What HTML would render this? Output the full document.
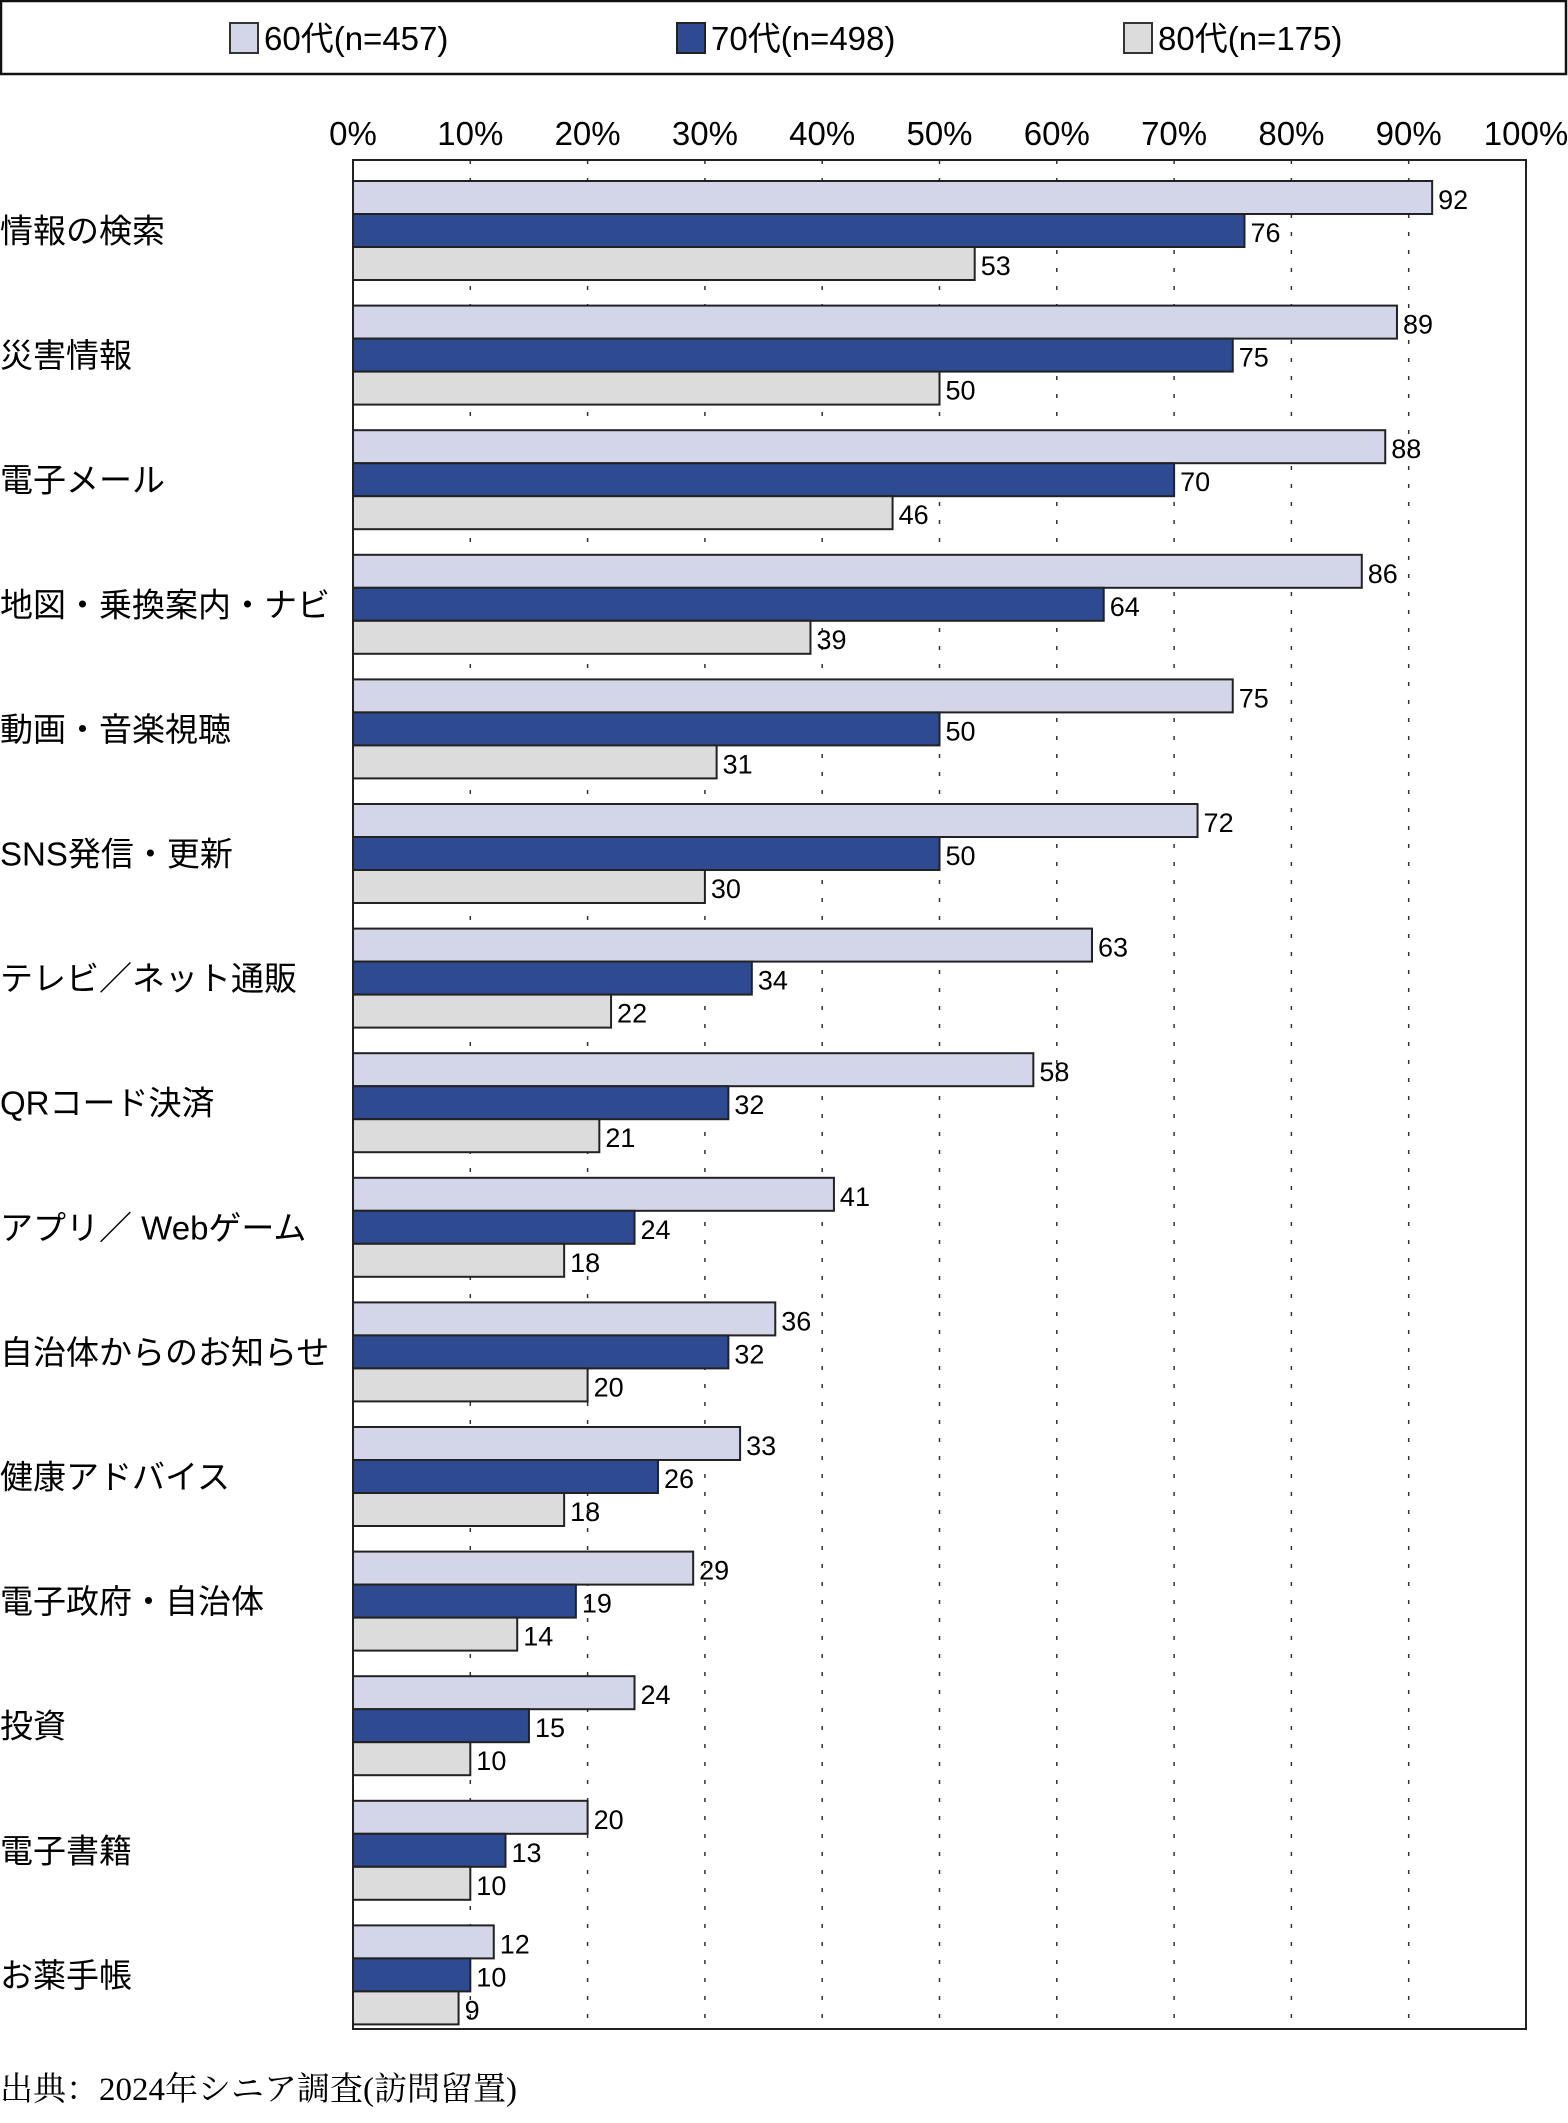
<!DOCTYPE html>
<html><head><meta charset="utf-8">
<style>
html,body{margin:0;padding:0;background:#fff;}
svg text{font-family:"Liberation Sans Narrow","Liberation Sans","Noto Sans CJK JP",sans-serif;}
</style></head>
<body>
<svg id="chart" xmlns="http://www.w3.org/2000/svg" width="1568" height="2118" viewBox="0 0 1568 2118">
<rect x="1" y="1" width="1565" height="73" fill="#fff" stroke="#111" stroke-width="2.5"/>
<g><rect x="230" y="23" width="28" height="30" fill="#d3d6e8" stroke="#333" stroke-width="2"/><text x="264" y="50" font-size="33" transform="scale(1,1)">60代(n=457)</text></g>
<g><rect x="677" y="23" width="28" height="30" fill="#2e4a91" stroke="#222" stroke-width="2"/><text x="711" y="50" font-size="33">70代(n=498)</text></g>
<g><rect x="1124" y="23" width="28" height="30" fill="#dcdcdc" stroke="#333" stroke-width="2"/><text x="1158" y="50" font-size="33">80代(n=175)</text></g>
<g id="grid"></g>
<g id="bars"></g>
<g id="labels"></g>
<rect x="353" y="160" width="1173" height="1869" fill="none" stroke="#222" stroke-width="2"/>
<text x="0" y="2100" font-size="33" style="font-family:'Liberation Serif','Noto Serif CJK SC',serif">出典：2024年シニア調査(訪問留置)</text>
</svg>
<script>
const categories=["情報の検索","災害情報","電子メール","地図・乗換案内・ナビ","動画・音楽視聴","SNS発信・更新","テレビ／ネット通販","QRコード決済","アプリ／ Webゲーム","自治体からのお知らせ","健康アドバイス","電子政府・自治体","投資","電子書籍","お薬手帳"];
const s60=[92,89,88,86,75,72,63,58,41,36,33,29,24,20,12];
const s70=[76,75,70,64,50,50,34,32,24,32,26,19,15,13,10];
const s80=[53,50,46,39,31,30,22,21,18,20,18,14,10,10,9];
const ticks=[0,10,20,30,40,50,60,70,80,90,100];
const NS="http://www.w3.org/2000/svg";
const X0=353,X1=1526,Y0=160,Y1=2029;
const x=v=>X0+(X1-X0)*v/100;
const step=(Y1-Y0)/categories.length;
function mk(t,a,p){const e=document.createElementNS(NS,t);for(const k in a)e.setAttribute(k,a[k]);p.appendChild(e);return e;}
const grid=document.getElementById('grid'),bars=document.getElementById('bars'),labels=document.getElementById('labels');
ticks.forEach(t=>{
  if(t>0&&t<100){const l=mk('line',{x1:x(t),x2:x(t),y1:Y0,y2:Y1,stroke:'#333','stroke-width':1.5,'stroke-dasharray':'4,14'},grid);
  
  }
  const tx=mk('text',{x:x(t),y:145,'font-size':33,'text-anchor':'middle'},labels);
  tx.textContent=t+'%';
  
  
});
const series=[[s60,'#d3d6e8','60s'],[s70,'#2e4a91','70s'],[s80,'#dcdcdc','80s']];
const bh=33;
categories.forEach((c,i)=>{
  const gy=Y0+i*step+21;
  const cl=mk('text',{x:0,y:gy+bh*1.5+12,'font-size':33},labels);
  cl.textContent=c;
  
  
  series.forEach((s,j)=>{
    const v=s[0][i],y=gy+j*bh;
    const r=mk('rect',{x:X0,y:y,width:x(v)-X0,height:bh,fill:s[1],stroke:'#222','stroke-width':2},bars);
    
    
    const t=mk('text',{x:x(v)+6,y:y+bh-5,'font-size':27},labels);
    t.textContent=v;
    
    
  });
});
</script>
</body></html>
